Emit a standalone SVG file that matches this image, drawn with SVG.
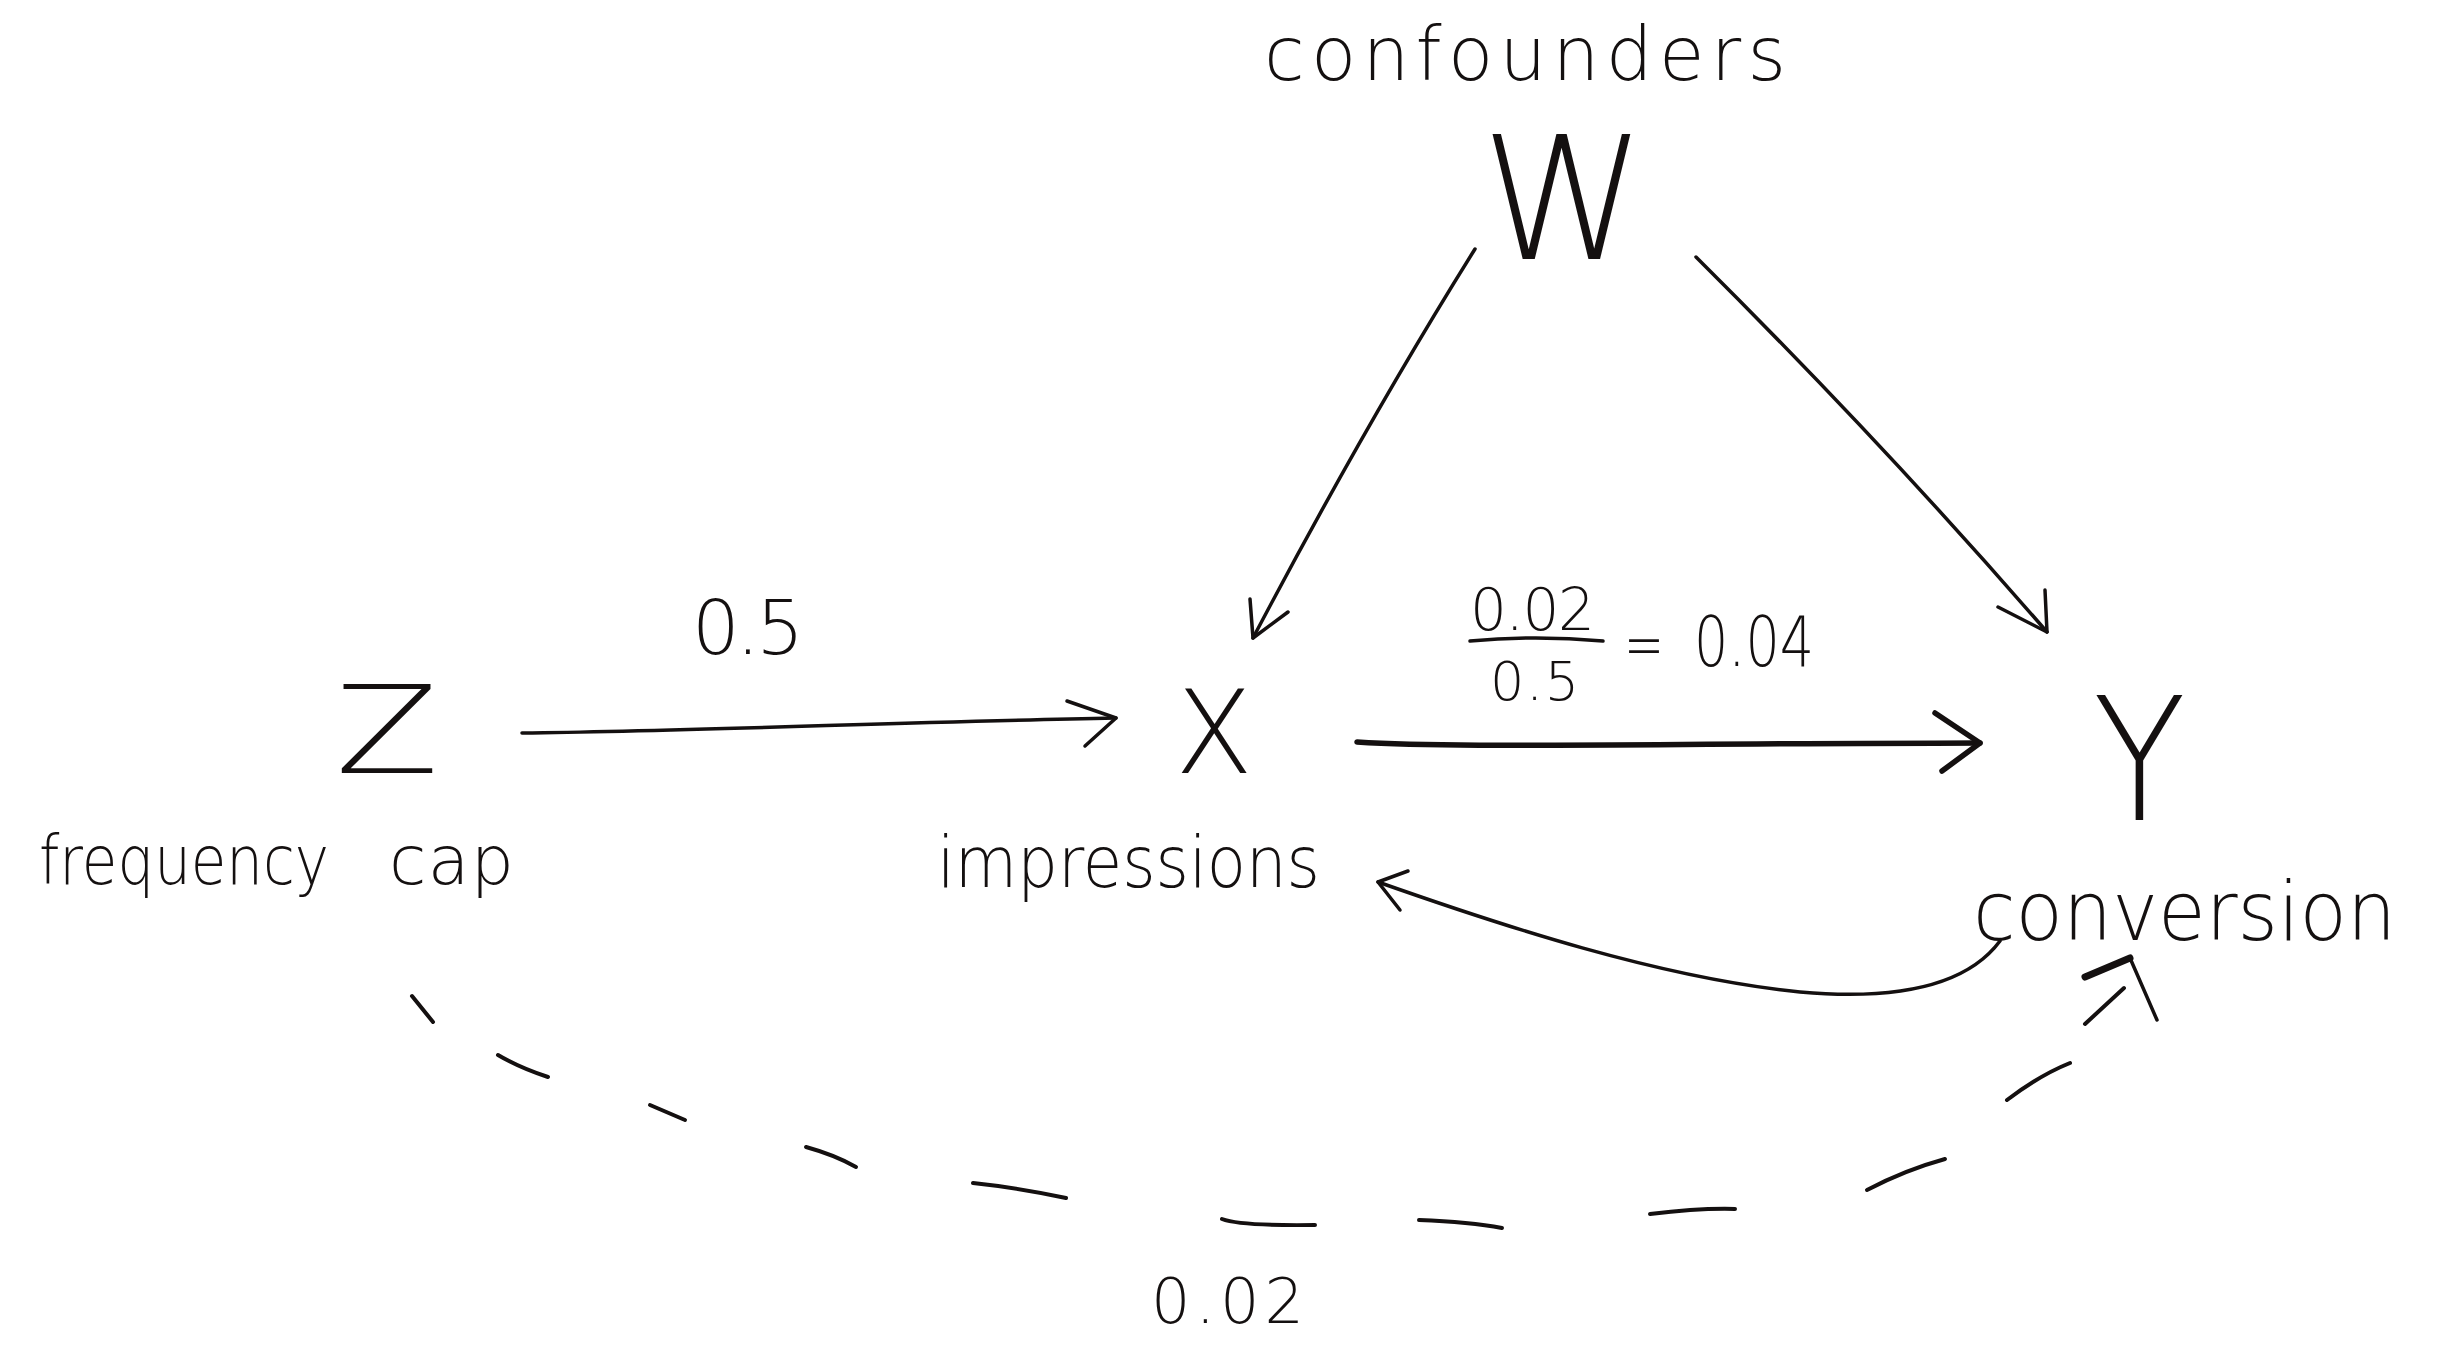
<svg xmlns="http://www.w3.org/2000/svg" width="2440" height="1366" viewBox="0 0 2440 1366">
<style>
.bg{fill:#ffffff}
.t{font-family:"DejaVu Sans","Liberation Sans",sans-serif;font-weight:200;fill:#141010}
.ln{fill:none;stroke:#141010;stroke-width:3.5;stroke-linecap:round;stroke-linejoin:round}
.thick{stroke-width:5.5}
.dash{fill:none;stroke:#141010;stroke-width:4;stroke-linecap:round}
</style>
<rect class="bg" x="0" y="0" width="2440" height="1366"/>
<g id="node-W">
<text class="t" x="1264" y="80" font-size="74" textLength="522" lengthAdjust="spacing">confounders</text>
<text class="t" x="1481" y="259" font-size="172" textLength="165" lengthAdjust="spacingAndGlyphs">W</text>
</g>
<g id="node-Z">
<text class="t" x="335" y="773" font-size="121" textLength="104" lengthAdjust="spacingAndGlyphs">Z</text>
<text class="t" font-size="68"><tspan x="39" y="884" textLength="290" lengthAdjust="spacingAndGlyphs">frequency</tspan><tspan x="389" y="884" textLength="125" lengthAdjust="spacing">cap</tspan></text>
</g>
<g id="node-X">
<text class="t" x="1175" y="773" font-size="115" textLength="78" lengthAdjust="spacingAndGlyphs">X</text>
<text class="t" x="937" y="887" font-size="72" textLength="383" lengthAdjust="spacingAndGlyphs">impressions</text>
</g>
<g id="node-Y">
<text class="t" x="2093" y="820" font-size="172" textLength="93" lengthAdjust="spacingAndGlyphs">Y</text>
<text class="t" x="1973" y="940" font-size="82" textLength="423" lengthAdjust="spacingAndGlyphs">conversion</text>
</g>
<g id="connectors">
<g id="Z-X">
<path class="ln" d="M522,733 C700,731 900,722 1116,718"/>
<path class="ln" d="M1067,701 L1116,718 L1085,746"/>
<text class="t" x="692" y="654" font-size="75" textLength="112" lengthAdjust="spacing">0.5</text>
</g>
<g id="X-Y">
<path class="ln thick" d="M1357,742 C1450,748 1600,744 1980,743"/>
<path class="ln thick" d="M1935,713 L1980,743 L1942,771"/>
<text class="t" x="1470" y="630" font-size="58" textLength="125" lengthAdjust="spacing">0.02</text>
<path class="ln" d="M1470,641 Q1535,635 1603,641"/>
<text class="t" x="1490" y="700" font-size="54" textLength="89" lengthAdjust="spacing">0.5</text>
<text class="t" x="1624" y="668" font-size="70" textLength="40" lengthAdjust="spacingAndGlyphs">=</text>
<text class="t" x="1694" y="666" font-size="70" textLength="120" lengthAdjust="spacingAndGlyphs">0.04</text>
</g>
<g id="W-X">
<path class="ln" d="M1475,249 Q1365,425 1253,638"/>
<path class="ln" d="M1250,599 L1253,638 L1288,612"/>
</g>
<g id="W-Y">
<path class="ln" d="M1696,257 Q1885,445 2047,632"/>
<path class="ln" d="M1998,607 L2047,632 L2045,590"/>
</g>
<g id="Y-X">
<path class="ln" d="M2000,941 C1965,988 1890,1000 1800,992 C1660,978 1500,925 1378,882"/>
<path class="ln" d="M1408,871 L1378,882 L1400,910"/>
</g>
<g id="Z-Y">
<path class="dash" d="M412,996 L433,1022"/>
<path class="dash" d="M498,1055 Q520,1068 548,1077"/>
<path class="dash" d="M650,1105 L685,1120"/>
<path class="dash" d="M806,1147 Q835,1155 856,1167"/>
<path class="dash" d="M973,1183 Q1020,1188 1066,1198"/>
<path class="dash" d="M1222,1219 Q1240,1226 1315,1225"/>
<path class="dash" d="M1419,1220 Q1470,1222 1502,1228"/>
<path class="dash" d="M1650,1214 Q1700,1208 1735,1209"/>
<path class="dash" d="M1867,1190 Q1905,1170 1945,1159"/>
<path class="dash" d="M2007,1100 Q2040,1075 2070,1063"/>
<path class="dash" d="M2085,1024 L2124,988"/>
<path class="ln" style="stroke-width:7" d="M2085,977 L2130,958"/>
<path class="ln" d="M2130,958 L2157,1020"/>
<text class="t" x="1151" y="1323" font-size="62" textLength="153" lengthAdjust="spacing">0.02</text>
</g>
</g>
</svg>
